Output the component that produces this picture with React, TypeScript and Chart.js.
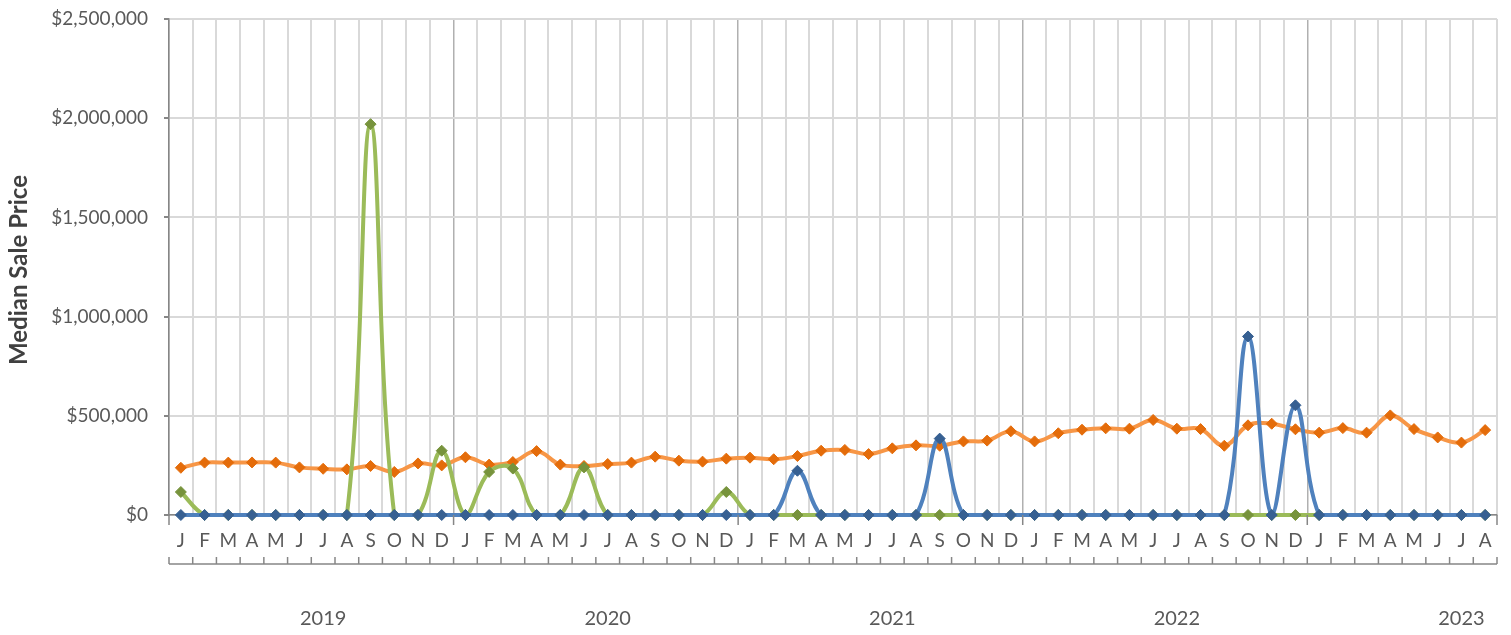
import React, { useEffect, useRef } from "react";
import { Chart, registerables } from "chart.js";

Chart.register(...registerables);

const monthLetters = ["J", "F", "M", "A", "M", "J", "J", "A", "S", "O", "N", "D"];
const years = ["2019", "2020", "2021", "2022", "2023"];
const monthCount = 56;
const monthLabels: string[] = Array.from({ length: monthCount }, (_, i) => monthLetters[i % 12]);

const orangeValues = [
  238000, 264000, 264000, 265000, 264000, 240000, 233000, 230000, 247000, 217000, 260000, 250000,
  291000, 254000, 267000, 322000, 254000, 247000, 257000, 264000, 294000, 274000, 269000, 284000,
  289000, 281000, 297000, 324000, 328000, 307000, 336000, 351000, 349000, 371000, 375000, 422000,
  371000, 412000, 430000, 437000, 435000, 479000, 435000, 433000, 349000, 452000, 460000, 432000,
  415000, 438000, 415000, 502000, 433000, 391000, 365000, 428000,
];

const greenValues = [
  116000, 0, 0, 0, 0, 0, 0, 0, 1970000, 0, 0, 324000,
  0, 217000, 234000, 0, 0, 240000, 0, 0, 0, 0, 0, 116000,
  0, 0, 0, 0, 0, 0, 0, 0, 0, 0, 0, 0,
  0, 0, 0, 0, 0, 0, 0, 0, 0, 0, 0, 0,
  0, 0, 0, 0, 0, 0, 0, 0,
];

const blueValues = [
  0, 0, 0, 0, 0, 0, 0, 0, 0, 0, 0, 0,
  0, 0, 0, 0, 0, 0, 0, 0, 0, 0, 0, 0,
  0, 0, 223000, 0, 0, 0, 0, 0, 385000, 0, 0, 0,
  0, 0, 0, 0, 0, 0, 0, 0, 0, 900000, 0, 553000,
  0, 0, 0, 0, 0, 0, 0, 0,
];

const yTitle = "Median Sale Price";
const FONT = "Lato, 'Open Sans', sans-serif";
const TEXT = "#595959";
const AXIS = "#868686";

const overlayPlugin = {
  id: "overlay",
  afterDraw(chart: any) {
    const { ctx, chartArea, scales } = chart;
    const xs = scales.x;
    const n = monthLabels.length;
    const step = (chartArea.right - chartArea.left) / n;
    const bottom = chartArea.bottom;
    ctx.save();
    ctx.strokeStyle = AXIS;
    ctx.lineWidth = 1.5;
    for (let i = 0; i <= n; i++) {
      if (i % 12 === 0 || i === n) {
        const px = chartArea.left + i * step;
        ctx.beginPath();
        ctx.moveTo(px, bottom);
        ctx.lineTo(px, bottom + 10);
        ctx.stroke();
      }
    }
    const by = bottom + 49;
    ctx.beginPath();
    ctx.moveTo(chartArea.left, by);
    ctx.lineTo(chartArea.right, by);
    ctx.stroke();
    for (let i = 0; i <= n; i++) {
      const px = chartArea.left + i * step;
      ctx.beginPath();
      ctx.moveTo(px, by - 7);
      ctx.lineTo(px, by);
      ctx.stroke();
    }
    ctx.fillStyle = TEXT;
    ctx.font = `20px ${FONT}`;
    ctx.textAlign = "center";
    ctx.textBaseline = "middle";
    years.forEach((y, k) => {
      ctx.fillText(y, xs.getPixelForValue(12 * k + 6), bottom + 104);
    });
    ctx.translate(19, (chartArea.top + chartArea.bottom) / 2 + 3);
    ctx.rotate(-Math.PI / 2);
    ctx.font = `bold 24px ${FONT}`;
    ctx.fillStyle = "#404040";
    ctx.fillText(yTitle, 0, 0);
    ctx.restore();
  },
};

export default function App() {
  const ref = useRef<HTMLCanvasElement | null>(null);
  useEffect(() => {
    if (!ref.current) return;
    const mk = (label: string, data: number[], line: string, marker: string) => ({
      label,
      data,
      borderColor: line,
      backgroundColor: marker,
      borderWidth: 4,
      pointStyle: "rectRot" as const,
      pointRadius: 5.5,
      pointBackgroundColor: marker,
      pointBorderColor: marker,
      pointBorderWidth: 1,
      tension: 0.4,
      clip: false as const,
      fill: false,
    });
    const chart = new Chart(ref.current, {
      type: "line",
      data: {
        labels: monthLabels,
        datasets: [
          mk("Blue", blueValues, "#4f81bd", "#376092"),
          mk("Green", greenValues, "#9bbb59", "#77933c"),
          mk("Orange", orangeValues, "#f79646", "#e46c0a"),
        ],
      },
      options: {
        animation: false,
        responsive: false,
        layout: { padding: { left: 0, right: 14, top: 19, bottom: 0 } },
        plugins: { legend: { display: false }, tooltip: { enabled: false } },
        scales: {
          x: {
            offset: true,
            grid: {
              offset: true,
              drawTicks: false,
              lineWidth: (c: any) => (c.index % 12 === 0 ? 1.5 : 2),
              color: (c: any) => (c.index % 12 === 0 ? "#b0b0b0" : "#d9d9d9"),
            },
            border: { color: AXIS, width: 1.5 },
            ticks: {
              color: TEXT,
              font: { family: FONT, size: 19 },
              padding: 14,
              autoSkip: false,
              maxRotation: 0,
            },
            afterFit: (s: any) => {
              s.height = 120;
              s.paddingLeft = 0;
              s.paddingRight = 0;
            },
          },
          y: {
            min: 0,
            max: 2500000,
            grid: { color: "#d9d9d9", lineWidth: 2, tickLength: 5, tickColor: AXIS },
            border: { color: AXIS, width: 1.5 },
            ticks: {
              stepSize: 500000,
              color: TEXT,
              font: { family: FONT, size: 19 },
              padding: 16,
              callback: (v: any) => "$" + Number(v).toLocaleString("en-US"),
            },
            afterFit: (s: any) => {
              s.width = 169;
              s.paddingTop = 0;
              s.paddingBottom = 0;
            },
          },
        },
      },
      plugins: [overlayPlugin],
    });
    return () => chart.destroy();
  }, []);
  return (
    <div style={{ position: "fixed", left: 0, top: 0, width: 1511, height: 635, background: "#fff" }}>
      <canvas ref={ref} width={1511} height={635} style={{ display: "block" }} />
    </div>
  );
}
